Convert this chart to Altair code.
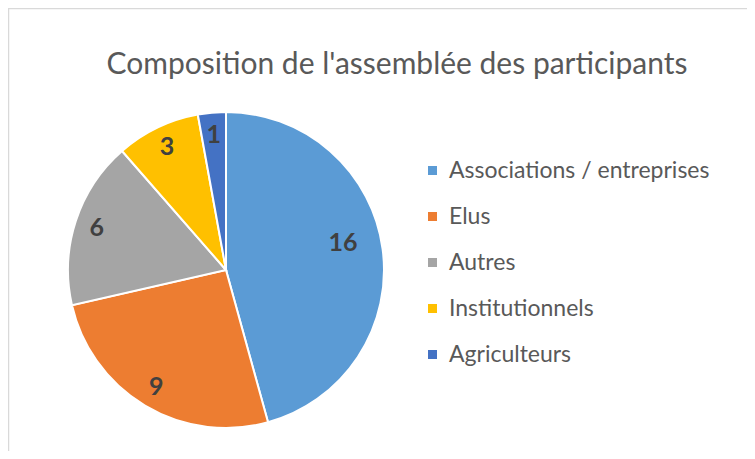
import altair as alt
import pandas as pd

categories = ["Associations / entreprises", "Elus", "Autres", "Institutionnels", "Agriculteurs"]
values = [16, 9, 6, 3, 1]
colors = ["#5B9BD5", "#ED7D31", "#A5A5A5", "#FFC000", "#4472C4"]
title_text = "Composition de l'assemblée des participants"

df = pd.DataFrame({"cat": categories, "value": values, "idx": list(range(len(categories)))})

W, H = 739, 443
CX, CY = 218, 262
R = 158
FONT = "Lato"

base = alt.Chart(df).encode(
    theta=alt.Theta("value:Q", stack=True),
    order=alt.Order("idx:Q", sort="ascending"),
)

pie = base.mark_arc(outerRadius=R, stroke="white", strokeWidth=2, x=CX, y=CY).encode(
    color=alt.Color(
        "cat:N",
        scale=alt.Scale(domain=categories, range=colors),
        sort=categories,
        legend=alt.Legend(
            title=None, orient="none", legendX=413, legendY=151,
            symbolType="square", symbolSize=81, symbolStrokeWidth=0,
            labelFont=FONT, labelFontSize=23, labelColor="#595959",
            rowPadding=22, labelOffset=5, labelLimit=400,
        ),
    )
)

label_style = dict(font=FONT, fontSize=25, fontWeight="bold", color="#404040",
                   align="center", baseline="middle", x=CX, y=CY)

labels_big = base.mark_text(radius=121, dx=-3, dy=-11, **label_style).encode(
    text="value:Q"
).transform_filter(alt.datum.value > 10)

labels_small = base.mark_text(radius=136, **label_style).encode(
    text="value:Q",
    opacity=alt.condition(alt.datum.value > 10, alt.value(0), alt.value(1)),
)

one = pd.DataFrame({"t": [title_text]})
title = alt.Chart(one).mark_text(
    font=FONT, fontSize=30, color="#595959", align="center", baseline="alphabetic"
).encode(text="t:N", x=alt.value(389), y=alt.value(66))

border_left = alt.Chart(one).mark_rule(color="#D9D9D9", strokeWidth=1.5).encode(
    x=alt.value(0.5), y=alt.value(0), y2=alt.value(H)
)
border_top = alt.Chart(one).mark_rule(color="#D9D9D9", strokeWidth=1.5).encode(
    x=alt.value(0), x2=alt.value(W), y=alt.value(0.5)
)

chart = alt.layer(border_left, border_top, title, pie, labels_big, labels_small).properties(
    width=W, height=H, padding=0, autosize="none"
).configure_view(stroke=None)

chart.save("out.html", embed_options={"renderer": "svg", "actions": False})
